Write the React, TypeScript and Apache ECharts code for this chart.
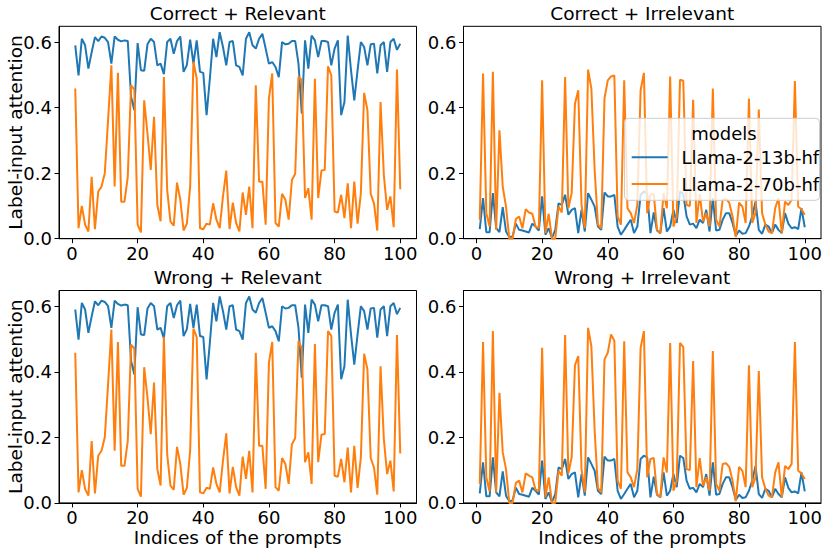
import React, { useEffect, useRef } from "react";
import * as echarts from "echarts";

// Prompt indices 1..100
const promptIdx: number[] = Array.from({ length: 100 }, (_, i) => i + 1);

const panelTitles = ["Correct + Relevant", "Correct + Irrelevant", "Wrong + Relevant", "Wrong + Irrelevant"];
const modelNames = ["Llama-2-13b-hf", "Llama-2-70b-hf"];
const xTicks = [0, 20, 40, 60, 80, 100];
const yTicks = [0, 0.2, 0.4, 0.6];

const relevant13b = [
  0.590, 0.498, 0.610, 0.590, 0.519, 0.569, 0.615, 0.603, 0.617, 0.613,
  0.600, 0.534, 0.617, 0.607, 0.602, 0.605, 0.603, 0.433, 0.392, 0.597,
  0.514, 0.512, 0.593, 0.610, 0.600, 0.529, 0.534, 0.502, 0.600, 0.610,
  0.564, 0.603, 0.617, 0.509, 0.530, 0.607, 0.534, 0.605, 0.509, 0.506,
  0.377, 0.488, 0.610, 0.554, 0.630, 0.585, 0.529, 0.600, 0.603, 0.529,
  0.524, 0.498, 0.610, 0.630, 0.590, 0.580, 0.610, 0.625, 0.580, 0.534,
  0.539, 0.524, 0.493, 0.600, 0.593, 0.595, 0.603, 0.603, 0.534, 0.382,
  0.605, 0.519, 0.620, 0.605, 0.554, 0.603, 0.603, 0.600, 0.529, 0.580,
  0.605, 0.377, 0.417, 0.620, 0.514, 0.422, 0.514, 0.600, 0.585, 0.529,
  0.593, 0.595, 0.504, 0.590, 0.600, 0.509, 0.600, 0.610, 0.576, 0.595,
];

const correctRelevant70b = [
  0.458, 0.032, 0.100, 0.043, 0.022, 0.189, 0.029, 0.144, 0.159, 0.200,
  0.362, 0.529, 0.159, 0.506, 0.113, 0.113, 0.189, 0.468, 0.455, 0.043,
  0.019, 0.422, 0.321, 0.210, 0.372, 0.103, 0.053, 0.493, 0.149, 0.053,
  0.040, 0.171, 0.119, 0.025, 0.046, 0.159, 0.539, 0.488, 0.032, 0.029,
  0.046, 0.043, 0.108, 0.058, 0.032, 0.129, 0.208, 0.029, 0.110, 0.048,
  0.022, 0.141, 0.073, 0.159, 0.032, 0.468, 0.174, 0.174, 0.043, 0.428,
  0.504, 0.048, 0.037, 0.137, 0.119, 0.058, 0.179, 0.198, 0.493, 0.485,
  0.124, 0.154, 0.058, 0.488, 0.124, 0.208, 0.210, 0.526, 0.498, 0.083,
  0.080, 0.134, 0.063, 0.169, 0.032, 0.174, 0.046, 0.139, 0.445, 0.392,
  0.137, 0.108, 0.025, 0.417, 0.195, 0.088, 0.129, 0.035, 0.516, 0.151,
];

const wrongRelevant70b = [
  0.458, 0.032, 0.100, 0.043, 0.022, 0.189, 0.029, 0.144, 0.159, 0.200,
  0.362, 0.529, 0.159, 0.491, 0.113, 0.113, 0.189, 0.483, 0.471, 0.043,
  0.019, 0.414, 0.321, 0.210, 0.367, 0.103, 0.053, 0.507, 0.149, 0.053,
  0.040, 0.171, 0.119, 0.025, 0.046, 0.159, 0.532, 0.506, 0.032, 0.029,
  0.046, 0.043, 0.108, 0.058, 0.032, 0.129, 0.212, 0.029, 0.110, 0.048,
  0.022, 0.141, 0.073, 0.159, 0.032, 0.458, 0.174, 0.174, 0.043, 0.428,
  0.491, 0.048, 0.037, 0.137, 0.119, 0.058, 0.179, 0.198, 0.493, 0.473,
  0.124, 0.154, 0.058, 0.485, 0.124, 0.208, 0.210, 0.524, 0.509, 0.083,
  0.080, 0.134, 0.063, 0.169, 0.032, 0.174, 0.046, 0.139, 0.455, 0.407,
  0.137, 0.108, 0.025, 0.417, 0.195, 0.088, 0.129, 0.035, 0.512, 0.151,
];

const irrelevant13b = [
  0.029, 0.124, 0.020, 0.020, 0.139, 0.032, 0.020, 0.096, 0.022, 0.005,
  0.007, 0.046, 0.027, 0.025, 0.022, 0.019, 0.046, 0.037, 0.025, 0.129,
  0.012, 0.032, 0.002, 0.027, 0.108, 0.103, 0.134, 0.073, 0.088, 0.093,
  0.017, 0.088, 0.022, 0.139, 0.119, 0.098, 0.037, 0.027, 0.141, 0.129,
  0.129, 0.134, 0.037, 0.012, 0.027, 0.043, 0.058, 0.017, 0.037, 0.134,
  0.144, 0.139, 0.017, 0.080, 0.025, 0.017, 0.093, 0.022, 0.037, 0.088,
  0.048, 0.144, 0.137, 0.068, 0.043, 0.046, 0.032, 0.058, 0.048, 0.088,
  0.022, 0.124, 0.025, 0.027, 0.058, 0.078, 0.078, 0.048, 0.009, 0.025,
  0.015, 0.017, 0.037, 0.068, 0.113, 0.027, 0.015, 0.043, 0.037, 0.017,
  0.043, 0.027, 0.017, 0.078, 0.046, 0.032, 0.035, 0.029, 0.093, 0.035,
];

const correctIrrelevant70b = [
  0.058, 0.504, 0.078, 0.037, 0.509, 0.027, 0.331, 0.159, 0.098, 0.000,
  0.000, 0.060, 0.068, 0.032, 0.090, 0.080, 0.076, 0.037, 0.032, 0.483,
  0.017, 0.076, 0.000, 0.000, 0.098, 0.080, 0.493, 0.093, 0.139, 0.412,
  0.453, 0.103, 0.032, 0.516, 0.458, 0.210, 0.043, 0.032, 0.428, 0.483,
  0.495, 0.498, 0.068, 0.043, 0.483, 0.093, 0.078, 0.048, 0.103, 0.453,
  0.506, 0.078, 0.134, 0.137, 0.027, 0.017, 0.139, 0.093, 0.495, 0.037,
  0.068, 0.485, 0.482, 0.103, 0.100, 0.424, 0.048, 0.137, 0.053, 0.078,
  0.037, 0.458, 0.058, 0.037, 0.119, 0.121, 0.110, 0.068, 0.005, 0.110,
  0.098, 0.048, 0.428, 0.048, 0.078, 0.394, 0.078, 0.043, 0.022, 0.017,
  0.093, 0.124, 0.017, 0.113, 0.103, 0.119, 0.481, 0.098, 0.090, 0.073,
];

const wrongIrrelevant70b = [
  0.058, 0.491, 0.078, 0.035, 0.524, 0.032, 0.336, 0.154, 0.103, 0.000,
  0.000, 0.061, 0.068, 0.032, 0.090, 0.083, 0.078, 0.040, 0.037, 0.473,
  0.017, 0.078, 0.000, 0.000, 0.098, 0.083, 0.512, 0.090, 0.139, 0.420,
  0.448, 0.103, 0.032, 0.534, 0.478, 0.220, 0.046, 0.032, 0.438, 0.458,
  0.514, 0.495, 0.068, 0.043, 0.493, 0.093, 0.078, 0.048, 0.103, 0.473,
  0.524, 0.078, 0.134, 0.137, 0.027, 0.017, 0.139, 0.093, 0.488, 0.037,
  0.068, 0.488, 0.475, 0.103, 0.100, 0.433, 0.048, 0.137, 0.053, 0.078,
  0.037, 0.463, 0.058, 0.037, 0.119, 0.121, 0.110, 0.068, 0.005, 0.110,
  0.098, 0.048, 0.420, 0.048, 0.078, 0.402, 0.078, 0.043, 0.022, 0.017,
  0.093, 0.124, 0.017, 0.113, 0.103, 0.119, 0.491, 0.098, 0.090, 0.073,
];

const panelData = [
  [relevant13b, correctRelevant70b],
  [irrelevant13b, correctIrrelevant70b],
  [relevant13b, wrongRelevant70b],
  [irrelevant13b, wrongIrrelevant70b],
];

const COLORS = ["#1f77b4", "#ff7f0e"];
const FONT = "DejaVu Sans";

export default function App() {
  const ref = useRef<HTMLDivElement>(null);

  useEffect(() => {
    if (!ref.current) return;
    const chart = echarts.init(ref.current, undefined, { renderer: "svg" });

    const colLeft = [59, 463.5];
    const rowTop = [26.3, 290.5];
    const gw = 357.5;
    const gh = 212.4;

    const grids: any[] = [];
    const xAxes: any[] = [];
    const yAxes: any[] = [];
    const series: any[] = [];
    const graphics: any[] = [];

    for (let p = 0; p < 4; p++) {
      const r = Math.floor(p / 2);
      const c = p % 2;
      grids.push({
        left: colLeft[c],
        top: rowTop[r],
        width: gw,
        height: gh,
        show: true,
        borderColor: "#000",
        borderWidth: 1,
        backgroundColor: "#fff",
        containLabel: false,
      });
      xAxes.push({
        type: "value",
        gridIndex: p,
        min: -3.95,
        max: 104.95,
        splitLine: { show: false },
        axisLine: { show: true, onZero: false, lineStyle: { color: "#000", width: 1 } },
        axisTick: { show: true, length: 4.5, lineStyle: { color: "#000", width: 1 }, customValues: xTicks },
        axisLabel: {
          customValues: xTicks,
          color: "#000",
          fontFamily: FONT,
          fontSize: 18,
          margin: 6,
          formatter: (v: number) => String(Math.round(v)),
        },
      });
      yAxes.push({
        type: "value",
        gridIndex: p,
        min: 0,
        max: 0.648,
        splitLine: { show: false },
        axisLine: { show: true, onZero: false, lineStyle: { color: "#000", width: 1 } },
        axisTick: { show: true, length: 4.5, lineStyle: { color: "#000", width: 1 }, customValues: yTicks },
        axisLabel: {
          customValues: yTicks,
          color: "#000",
          fontFamily: FONT,
          fontSize: 18,
          margin: 7,
          formatter: (v: number) => v.toFixed(1),
        },
      });
      panelData[p].forEach((vals, s) => {
        series.push({
          type: "line",
          name: modelNames[s],
          xAxisIndex: p,
          yAxisIndex: p,
          data: vals.map((v, i) => [promptIdx[i], v]),
          showSymbol: false,
          symbol: "none",
          lineStyle: { color: COLORS[s], width: 2 },
          itemStyle: { color: COLORS[s] },
          z: 3,
        });
      });
      graphics.push({
        type: "text",
        x: colLeft[c] + gw / 2,
        y: rowTop[r] - 13,
        style: {
          text: panelTitles[p],
          fontFamily: FONT,
          fontSize: 18.5,
          fill: "#000",
          align: "center",
          verticalAlign: "middle",
        },
      });
    }

    // axis labels
    [0, 1].forEach((r) => {
      graphics.push({
        type: "text",
        x: 15,
        y: rowTop[r] + gh / 2,
        rotation: Math.PI / 2,
        style: {
          text: "Label-input attention",
          fontFamily: FONT,
          fontSize: 18.5,
          fill: "#000",
          align: "center",
          verticalAlign: "middle",
        },
      });
    });
    [0, 1].forEach((c) => {
      graphics.push({
        type: "text",
        x: colLeft[c] + gw / 2,
        y: 537,
        style: {
          text: "Indices of the prompts",
          fontFamily: FONT,
          fontSize: 18.5,
          fill: "#000",
          align: "center",
          verticalAlign: "middle",
        },
      });
    });

    // legend (in the Correct + Irrelevant panel)
    const lg = {
      type: "group",
      z: 100,
      children: [
        {
          type: "rect",
          shape: { x: 624.5, y: 118.3, width: 195, height: 82, r: 4 },
          style: { fill: "rgba(255,255,255,0.8)", stroke: "#cccccc", lineWidth: 1 },
          z: 100,
        },
        {
          type: "text",
          x: 724,
          y: 133,
          z: 101,
          style: { text: "models", fontFamily: FONT, fontSize: 18, fill: "#000", align: "center", verticalAlign: "middle" },
        },
        ...modelNames.map((name, i) => ({
          type: "group",
          z: 101,
          children: [
            {
              type: "line",
              z: 101,
              shape: { x1: 631.7, y1: 157.3 + i * 26.7, x2: 667.7, y2: 157.3 + i * 26.7 },
              style: { stroke: COLORS[i], lineWidth: 2 },
            },
            {
              type: "text",
              z: 101,
              x: 681.5,
              y: 157.3 + i * 26.7,
              style: { text: name, fontFamily: FONT, fontSize: 18, fill: "#000", align: "left", verticalAlign: "middle" },
            },
          ],
        })),
      ],
    };
    graphics.push(lg);

    chart.setOption({
      animation: false,
      backgroundColor: "#fff",
      grid: grids,
      xAxis: xAxes,
      yAxis: yAxes,
      series,
      graphic: graphics,
    });

    return () => chart.dispose();
  }, []);

  return (
    <div
      ref={ref}
      style={{ position: "fixed", left: 0, top: 0, width: 830, height: 552, background: "#fff" }}
    />
  );
}
